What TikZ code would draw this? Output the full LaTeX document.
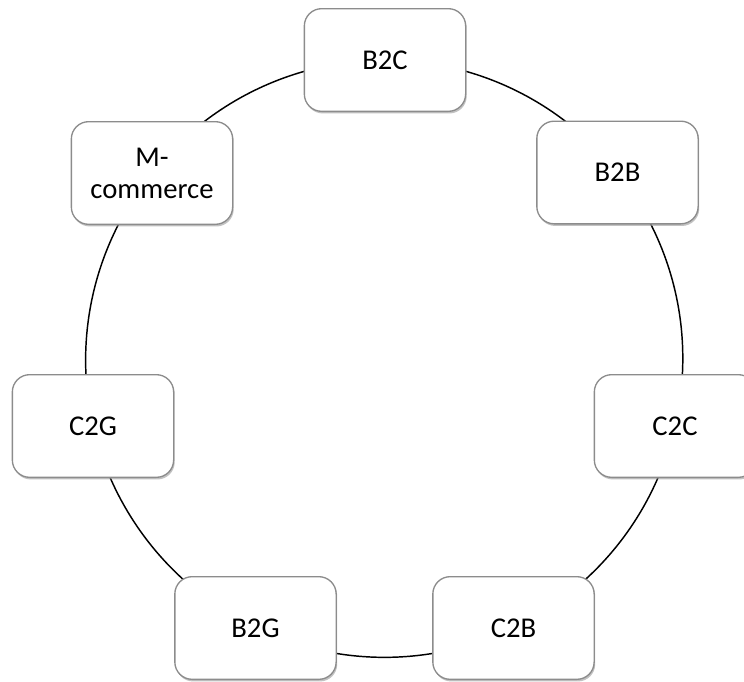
\documentclass[tikz,border=0pt]{standalone}
\usepackage{fontspec}
\setmainfont{Carlito}
\usetikzlibrary{shadows,backgrounds}
\begin{document}
\begin{tikzpicture}[x=0.75pt,y=-0.75pt,
  cyclebox/.style={draw=black!45, line width=1pt, fill=white, rounded corners=13pt,
    minimum width=121pt, minimum height=77pt, align=center, font=\fontsize{21.5}{24}\selectfont,
    drop shadow={shadow xshift=0.8pt, shadow yshift=-1.6pt, fill=black!40, opacity=0.6}},
  ring/.style={draw=black, line width=1.1pt, looseness=0.9}]
\useasboundingbox (0,0) rectangle (744,682);
\node[cyclebox] (b2c) at (385,60) {B2C};
\node[cyclebox] (b2b) at (617.5,172.5) {B2B};
\node[cyclebox] (c2c) at (675,426) {C2C};
\node[cyclebox] (c2b) at (513.5,628) {C2B};
\node[cyclebox] (b2g) at (255.5,628) {B2G};
\node[cyclebox] (c2g) at (93,426) {C2G};
\node[cyclebox] (mcom) at (152,173) {M-\\commerce};
\begin{scope}[on background layer]
\draw[ring] (b2c.center) to[bend left=25.7] (b2b.center);
\draw[ring] (b2b.center) to[bend left=25.9] (c2c.center);
\draw[ring] (c2c.center) to[bend left=25.6] (c2b.center);
\draw[ring] (c2b.center) to[bend left=25.6] (b2g.center);
\draw[ring] (b2g.center) to[bend left=25.6] (c2g.center);
\draw[ring] (c2g.center) to[bend left=25.9] (mcom.center);
\draw[ring] (mcom.center) to[bend left=25.7] (b2c.center);
\end{scope}
\end{tikzpicture}
\end{document}
